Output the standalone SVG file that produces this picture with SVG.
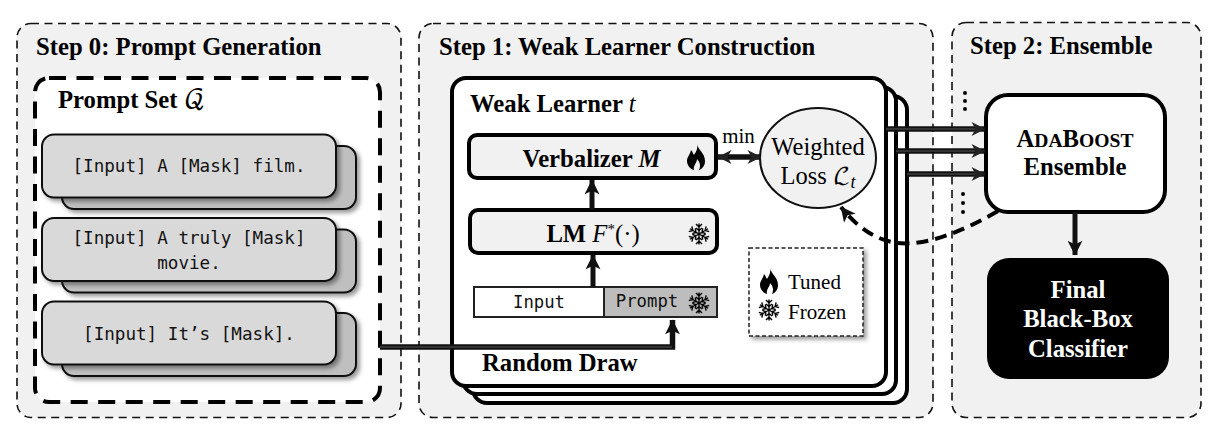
<svg xmlns="http://www.w3.org/2000/svg" width="1223" height="445" viewBox="0 0 1223 445">
<style>
text{font-family:"Liberation Serif","Times New Roman",serif;fill:#000}
.b{font-weight:700}
.title{font-size:24.700px;font-weight:700}
.sub{font-size:24.700px;font-weight:700}
.mono{font-family:"DejaVu Sans Mono","Liberation Mono",monospace;font-size:17.600px;text-anchor:middle;fill:#111}
.mono2{font-family:"DejaVu Sans Mono","Liberation Mono",monospace;font-size:17.300px;text-anchor:middle;fill:#111}
.panel{fill:#f1f1f1;stroke:#111;stroke-width:1.6;stroke-dasharray:8 5.5}
.card{fill:#d9d9d9;stroke:#111;stroke-width:2}
.back{fill:#bfbfbf;stroke:#111;stroke-width:2}
.wl{fill:#fff;stroke:#000;stroke-width:4}
.inner{fill:#f1f1f1;stroke:#000;stroke-width:4}
.conn{fill:none;stroke:#111;stroke-width:5}
.wire{fill:none;stroke:#111;stroke-width:5.5}
.core{fill:none;stroke:#555;stroke-width:1}
.c{text-anchor:middle}
.w{fill:#fff}
</style>
<defs>
<filter id="sh" x="-10%" y="-10%" width="125%" height="125%"><feDropShadow dx="3" dy="3" stdDeviation="2" flood-color="#000" flood-opacity=".4"/></filter>
<marker id="ah" viewBox="0 0 16 16" refX="14.5" refY="8" markerWidth="17" markerHeight="17" markerUnits="userSpaceOnUse" orient="auto-start-reverse"><path d="M1 1 L15 8 L1 15 L4.5 8 Z" fill="#111"/></marker>
<marker id="ahs" viewBox="0 0 16 16" refX="14.5" refY="8" markerWidth="16" markerHeight="16" markerUnits="userSpaceOnUse" orient="auto-start-reverse"><path d="M1 1 L15 8 L1 15 L5 8 Z" fill="#222"/></marker>
<g id="flame"><path d="M1-14C2-8 9-5 9 3C9 8 6 11 3 12C5 8 4 4 1 1C1 5-3 7-2 12C-6 11-9 7-9 3C-9-1-6-3-5-8C-3-6-3-4-2-3C0-6 2-9 1-14Z" fill="#000"/></g>
<g id="arm"><path d="M0 0V-10.500M-3-10L0-7L3-10M-3-6L0-3.500L3-6" fill="none" stroke="#000" stroke-width="1.400"/></g>
<g id="snow"><use href="#arm"/><use href="#arm" transform="rotate(60)"/><use href="#arm" transform="rotate(120)"/><use href="#arm" transform="rotate(180)"/><use href="#arm" transform="rotate(240)"/><use href="#arm" transform="rotate(300)"/></g>
</defs>

<g id="step0">
<rect class="panel" x="17" y="23.500" width="384" height="394" rx="14"/>
<text class="title" x="36" y="55">Step 0: Prompt Generation</text>
</g>
<g id="step1">
<rect class="panel" x="419" y="23.500" width="514" height="394" rx="14"/>
<text class="title" x="439" y="55">Step 1: Weak Learner Construction</text>
</g>
<g id="step2">
<rect class="panel" x="952" y="22.500" width="249" height="395" rx="14"/>
<text class="title" x="970" y="54">Step 2: Ensemble</text>
</g>

<g id="prompt-set">
<rect x="35" y="78" width="345" height="324" rx="14" fill="#fff" stroke="#000" stroke-width="4" stroke-dasharray="17 10.500"/>
<text class="sub" x="58" y="108">Prompt Set <tspan font-family="DejaVu Math TeX Gyre,DejaVu Serif,serif" font-weight="400" font-size="26">𝒬</tspan></text>
</g>
<g id="card-0">
<rect class="back" x="62" y="146" width="294" height="63" rx="12" filter="url(#sh)"/>
<rect class="card" x="42" y="134.500" width="294" height="63" rx="12" filter="url(#sh)"/>
<text class="mono" x="189" y="172">[Input] A [Mask] film.</text>
</g>
<g id="card-1">
<rect class="back" x="62" y="229.500" width="294" height="63" rx="12" filter="url(#sh)"/>
<rect class="card" x="42" y="218" width="294" height="63" rx="12" filter="url(#sh)"/>
<text class="mono" x="189" y="244">[Input] A truly [Mask]</text>
<text class="mono" x="189" y="269">movie.</text>
</g>
<g id="card-2">
<rect class="back" x="62" y="313" width="294" height="63" rx="12" filter="url(#sh)"/>
<rect class="card" x="42" y="301.500" width="294" height="63" rx="12" filter="url(#sh)"/>
<text class="mono" x="189" y="340">[Input] It’s [Mask].</text>
</g>

<g id="weak-learner">
<rect class="wl" x="473" y="96" width="434" height="307" rx="14"/>
<rect class="wl" x="463" y="87" width="433" height="307" rx="14"/>
<rect class="wl" x="452" y="78" width="434" height="308" rx="14"/>
<text class="sub" x="470" y="112">Weak Learner <tspan font-style="italic" font-weight="400">t</tspan></text>
<text class="sub" x="482" y="371">Random Draw</text>
</g>

<g id="verbalizer">
<rect class="inner" x="469" y="135" width="247" height="43" rx="8"/>
<text class="sub c" x="591.500" y="167">Verbalizer <tspan font-style="italic">M</tspan></text>
<use href="#flame" x="696" y="158"/>
</g>
<g id="lm">
<rect class="inner" x="470" y="210" width="247" height="43" rx="8"/>
<text class="sub c" x="593" y="242">LM <tspan font-style="italic" font-weight="400">F</tspan><tspan font-size="15" dy="-8" font-weight="400">*</tspan><tspan dy="8" font-weight="400">(·)</tspan></text>
<use href="#snow" x="699" y="234"/>
</g>
<g id="input">
<rect x="474" y="287" width="130" height="30" fill="#fff" stroke="#222" stroke-width="2"/>
<text class="mono2" x="539" y="308">Input</text>
</g>
<g id="prompt">
<rect x="604" y="287" width="113" height="30" fill="#bdbdbd" stroke="#222" stroke-width="2"/>
<text class="mono2" x="647" y="307">Prompt</text>
<use href="#snow" x="699" y="303"/>
</g>
<g id="loss">
<ellipse cx="818" cy="158" rx="58" ry="50" fill="#f1f1f1" stroke="#111" stroke-width="2"/>
<text class="c" x="818" y="155" font-size="24.500">Weighted</text>
<text class="c" x="818" y="184" font-size="24.500">Loss <tspan font-family="DejaVu Math TeX Gyre,DejaVu Serif,serif" font-size="23">ℒ</tspan><tspan font-style="italic" font-size="18" dy="4">t</tspan></text>
</g>
<g id="legend">
<rect x="749" y="248" width="114" height="88" fill="#fff" stroke="#222" stroke-width="1.500" stroke-dasharray="4 2.500" filter="url(#sh)"/>
<use href="#flame" x="769" y="282"/>
<use href="#snow" x="769" y="310"/>
<text x="788" y="289" font-size="21">Tuned</text>
<text x="788" y="319" font-size="21">Frozen</text>
</g>
<g id="adaboost">
<rect x="986" y="95" width="179" height="117" rx="22" fill="#fff" stroke="#000" stroke-width="4"/>
<text class="b c" x="1075" y="147" font-size="24.700">A<tspan font-size="19.600">DA</tspan>B<tspan font-size="19.600">OOST</tspan></text>
<text class="b c" x="1075" y="175" font-size="24.700">Ensemble</text>
</g>
<g id="final">
<rect x="987" y="258" width="182" height="121" rx="22" fill="#000"/>
<text class="b c w" x="1078" y="298" font-size="24.700">Final</text>
<text class="b c w" x="1078" y="327" font-size="24.700">Black-Box</text>
<text class="b c w" x="1078" y="357" font-size="24.700">Classifier</text>
</g>

<g id="connectors">
<path class="wire" d="M380 347H672.500V320" marker-end="url(#ah)"/>
<path class="core" d="M380 347H672"/>
<path class="conn" d="M592 210V180" marker-end="url(#ah)"/>
<path class="conn" d="M593 287V255" marker-end="url(#ah)"/>
<path class="wire" d="M718 157H761" marker-start="url(#ahs)" marker-end="url(#ahs)"/>
<path class="wire" d="M886 129H985" marker-end="url(#ahs)"/>
<path class="core" d="M886 129H975"/>
<path class="wire" d="M896 151H985" marker-end="url(#ahs)"/>
<path class="core" d="M896 151H975"/>
<path class="wire" d="M907 174H985" marker-end="url(#ahs)"/>
<path class="core" d="M907 174H975"/>
<path class="conn" d="M1075 212V255" marker-end="url(#ah)"/>
<path d="M998 211C960 233 925 246 897 243C875 240 856 226 841 207" fill="none" stroke="#000" stroke-width="4" stroke-dasharray="12 7" marker-end="url(#ah)"/>
<g fill="#000"><circle cx="965" cy="93" r="2"/><circle cx="965" cy="101" r="2"/><circle cx="965" cy="109" r="2"/><circle cx="963" cy="194" r="2"/><circle cx="963" cy="203" r="2"/><circle cx="963" cy="212" r="2"/></g>
<text class="c" x="738.500" y="143" font-size="21">min</text>
</g>
</svg>
